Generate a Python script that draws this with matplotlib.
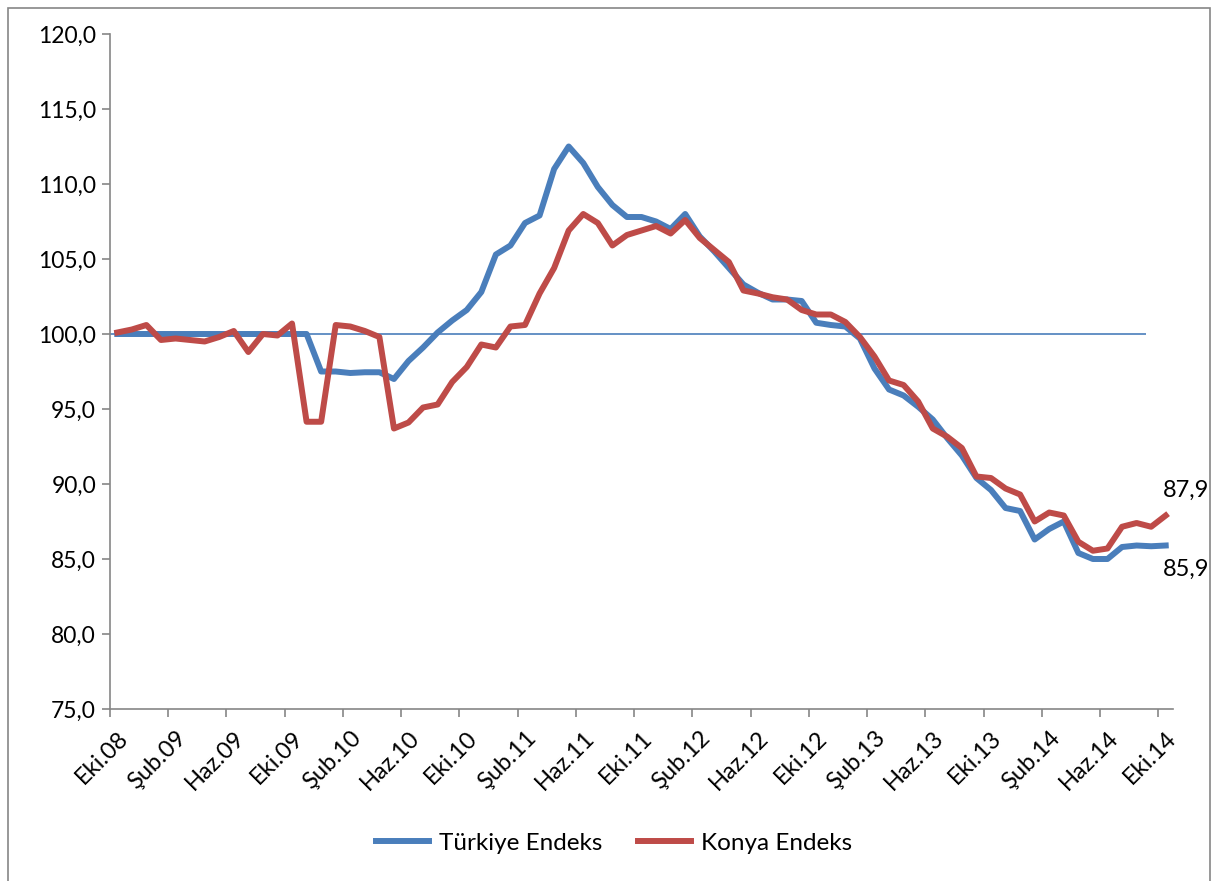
import matplotlib
matplotlib.use('Agg')
import matplotlib.pyplot as plt
from matplotlib.patches import Rectangle
from matplotlib.ticker import FuncFormatter, FixedLocator
import numpy as np

plt.rcParams['font.family'] = ['Lato', 'DejaVu Sans']

# monthly index, Eki.08 .. Eki.14 (73 months)
turkiye = [100.0, 100.0, 100.0, 100.0, 100.0, 100.0, 100.0, 100.0, 100.0, 100.0,
           100.0, 100.0, 100.0, 100.0, 97.5, 97.5, 97.4, 97.45, 97.45, 97.0,
           98.2, 99.1, 100.1, 100.9, 101.6, 102.8, 105.3, 105.9, 107.4, 107.9,
           111.0, 112.5, 111.4, 109.8, 108.6, 107.8, 107.8, 107.5, 107.0, 108.0,
           106.5, 105.5, 104.4, 103.3, 102.75, 102.3, 102.3, 102.2, 100.75, 100.6,
           100.5, 99.7, 97.7, 96.3, 95.9, 95.15, 94.3, 93.05, 91.9, 90.4,
           89.6, 88.4, 88.2, 86.3, 87.0, 87.5, 85.4, 85.0, 85.0, 85.8,
           85.9, 85.85, 85.9]
konya = [100.1, 100.3, 100.6, 99.6, 99.7, 99.6, 99.5, 99.8, 100.2, 98.8,
         100.0, 99.9, 100.7, 94.15, 94.15, 100.6, 100.5, 100.2, 99.8, 93.7,
         94.1, 95.1, 95.3, 96.8, 97.8, 99.3, 99.1, 100.5, 100.6, 102.7,
         104.4, 106.9, 108.0, 107.4, 105.9, 106.6, 106.9, 107.2, 106.7, 107.6,
         106.4, 105.6, 104.8, 102.9, 102.7, 102.45, 102.3, 101.6, 101.3, 101.3,
         100.8, 99.8, 98.5, 96.9, 96.6, 95.5, 93.7, 93.15, 92.4, 90.5,
         90.4, 89.7, 89.3, 87.5, 88.1, 87.9, 86.15, 85.55, 85.7, 87.15,
         87.4, 87.15, 87.9]
baz = 100.0

ay_etiketleri = ['Eki.08', 'Şub.09', 'Haz.09', 'Eki.09', 'Şub.10', 'Haz.10', 'Eki.10',
                 'Şub.11', 'Haz.11', 'Eki.11', 'Şub.12', 'Haz.12', 'Eki.12', 'Şub.13',
                 'Haz.13', 'Eki.13', 'Şub.14', 'Haz.14', 'Eki.14']

blue = '#4A7EBB'
red = '#BE4B48'
gray = '#868686'

x = np.arange(len(turkiye))

fig = plt.figure(figsize=(12.18, 8.81), dpi=100)
fig.patches.append(Rectangle((8 / 1218, -0.05), 1202 / 1218, 1.05 - 8 / 881,
                             transform=fig.transFigure, fill=False,
                             edgecolor=gray, linewidth=1.2))
ax = fig.add_axes([110 / 1218, 1 - 709 / 881, 1063 / 1218, 675 / 881])

ax.hlines(baz, -0.5, len(x) - 2.35, color=blue, linewidth=1.2, zorder=2)
ax.plot(x, turkiye, color=blue, linewidth=4.3, label='Türkiye Endeks', zorder=3)
ax.plot(x, konya, color=red, linewidth=4.3, label='Konya Endeks', zorder=4)

ax.annotate('87,9', (x[-1], konya[-1]), xytext=(15, 18), textcoords='offset points',
            ha='center', va='center', fontsize=17)
ax.annotate('85,9', (x[-1], turkiye[-1]), xytext=(15, -17), textcoords='offset points',
            ha='center', va='center', fontsize=17)

ax.set_xlim(-0.5, len(x) - 0.5)
ax.set_ylim(75, 120)
ax.set_yticks(np.arange(75, 121, 5))
ax.yaxis.set_major_formatter(FuncFormatter(lambda v, p: f'{v:.1f}'.replace('.', ',')))

tick_pos = np.arange(0, len(x), 4)
ax.xaxis.set_major_locator(FixedLocator(tick_pos - 0.5))
ax.xaxis.set_minor_locator(FixedLocator(tick_pos))
ax.set_xticklabels([], minor=False)
ax.set_xticklabels(ay_etiketleri, minor=True, rotation=45, ha='right',
                   rotation_mode='anchor', fontsize=17)
ax.tick_params(axis='x', which='major', length=6, color=gray, width=1.2, direction='out')
ax.tick_params(axis='x', which='minor', length=0, pad=13)
ax.tick_params(axis='y', length=6, color=gray, width=1.2, direction='out',
               labelsize=16.5, pad=4)

for s in ['top', 'right']:
    ax.spines[s].set_visible(False)
for s in ['left', 'bottom']:
    ax.spines[s].set_color(gray)
    ax.spines[s].set_linewidth(1.2)

ax.legend(loc='center', bbox_to_anchor=(0.504, 1 - 843 / 881), bbox_transform=fig.transFigure,
          ncol=2, frameon=False, fontsize=17.5, handlelength=2.2, columnspacing=1.45,
          handletextpad=0.4)

fig.savefig('out.png', dpi=100)
